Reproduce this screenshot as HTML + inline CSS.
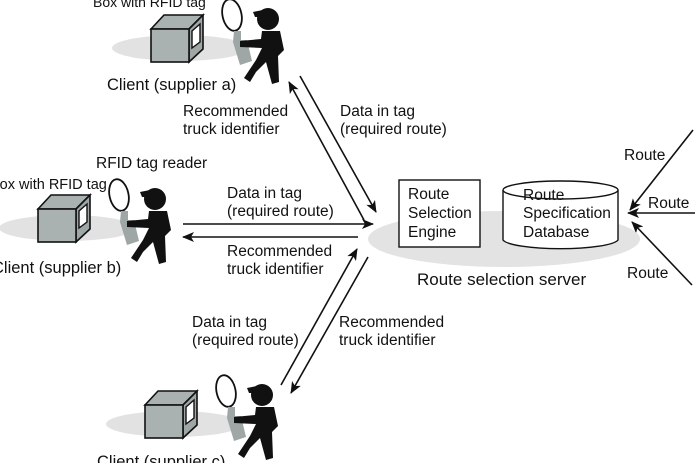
<!DOCTYPE html>
<html><head><meta charset="utf-8"><style>
html,body{margin:0;padding:0;background:#fff;}
svg{display:block;}
text{font-family:"Liberation Sans",Arial,sans-serif;font-size:15.5px;fill:#111;}
.c{font-size:16.5px;}
</style></head><body>
<svg width="695" height="463" viewBox="0 0 695 463" xmlns="http://www.w3.org/2000/svg">
<defs>
<marker id="ah" markerWidth="12" markerHeight="10" refX="11" refY="5" orient="auto" markerUnits="userSpaceOnUse">
<path d="M0,0 L12,5 L0,10 L3,5 Z" fill="#111"/>
</marker>
<g id="client">
<ellipse cx="180" cy="48" rx="68" ry="13" fill="#e2e2e2"/>
<polygon points="151,29 164,15 203,15 189,29" fill="#a9b1b1" stroke="#111" stroke-width="1.6"/>
<polygon points="189,29 203,15 203,49 189,62" fill="#9ea6a6" stroke="#111" stroke-width="1.6"/>
<rect x="151" y="29" width="38" height="33" fill="#a9b1b1" stroke="#111" stroke-width="1.6"/>
<polygon points="192,31 200,24 200,42 192,48" fill="#fff" stroke="#111" stroke-width="1.4"/>
<ellipse cx="232" cy="15" rx="9.5" ry="16" transform="rotate(-12 232 15)" fill="none" stroke="#111" stroke-width="1.8"/>
<polygon points="234,31 241,31 241,40 247,40 252,61 240,65 233,42" fill="#9ea6a6"/>
<circle cx="268" cy="19" r="11" fill="#111"/>
<path d="M253,12 L268,9 L268,17 L255,17 Z" fill="#111"/>
<path d="M262,31 L280,31 L284,50 L278,56 L279,82 L272,84 L266,62 L256,72 L250,82 L244,78 L256,60 L262,48 L240,47 L240,41 L261,39 Z" fill="#111"/>
</g>
</defs>

<use href="#client"/>
<use href="#client" transform="translate(-113,180)"/>
<use href="#client" transform="translate(-6,376)"/>

<text x="93" y="7" style="font-size:14px">Box with RFID tag</text>
<text class="c" x="107" y="90">Client (supplier a)</text>
<text x="96" y="168">RFID tag reader</text>
<text x="-10" y="189" style="font-size:14.5px">Box with RFID tag</text>
<text class="c" x="-8" y="273">Client (supplier b)</text>
<text class="c" x="97" y="467">Client (supplier c)</text>

<text x="183" y="116">Recommended</text>
<text x="183" y="134">truck identifier</text>
<text x="340" y="116">Data in tag</text>
<text x="340" y="134">(required route)</text>
<text x="227" y="198">Data in tag</text>
<text x="227" y="216">(required route)</text>
<text x="227" y="256">Recommended</text>
<text x="227" y="274">truck identifier</text>
<text x="192" y="327">Data in tag</text>
<text x="192" y="345">(required route)</text>
<text x="339" y="327">Recommended</text>
<text x="339" y="345">truck identifier</text>

<g stroke="#111" stroke-width="1.6" fill="none">
<line x1="300" y1="76" x2="376" y2="212" marker-end="url(#ah)"/>
<line x1="364" y1="220" x2="289" y2="82" marker-end="url(#ah)"/>
<line x1="183" y1="224" x2="373" y2="224" marker-end="url(#ah)"/>
<line x1="358" y1="237" x2="183" y2="237" marker-end="url(#ah)"/>
<line x1="281" y1="385" x2="357" y2="249" marker-end="url(#ah)"/>
<line x1="368" y1="257" x2="291" y2="393" marker-end="url(#ah)"/>
<line x1="693" y1="130" x2="630" y2="210" marker-end="url(#ah)"/>
<line x1="695" y1="213" x2="628" y2="213" marker-end="url(#ah)"/>
<line x1="692" y1="285" x2="632" y2="222" marker-end="url(#ah)"/>
</g>

<ellipse cx="504" cy="239" rx="136" ry="28" fill="#e3e3e3"/>
<rect x="399" y="180" width="81" height="67" fill="#fff" stroke="#111" stroke-width="1.4"/>
<text x="408" y="199">Route</text>
<text x="408" y="218">Selection</text>
<text x="408" y="237">Engine</text>
<path d="M503,190 L503,240 A58,10 0 0 0 618,240 L618,190" fill="#fff" stroke="#111" stroke-width="1.4"/>
<ellipse cx="560.5" cy="190" rx="57.5" ry="9" fill="#fff" stroke="#111" stroke-width="1.4"/>
<text x="523" y="200">Route</text>
<text x="523" y="218">Specification</text>
<text x="523" y="237">Database</text>
<text x="417" y="285" style="font-size:17px">Route selection server</text>
<text x="624" y="160">Route</text>
<text x="648" y="208">Route</text>
<text x="627" y="278">Route</text>
</svg>
</body></html>
